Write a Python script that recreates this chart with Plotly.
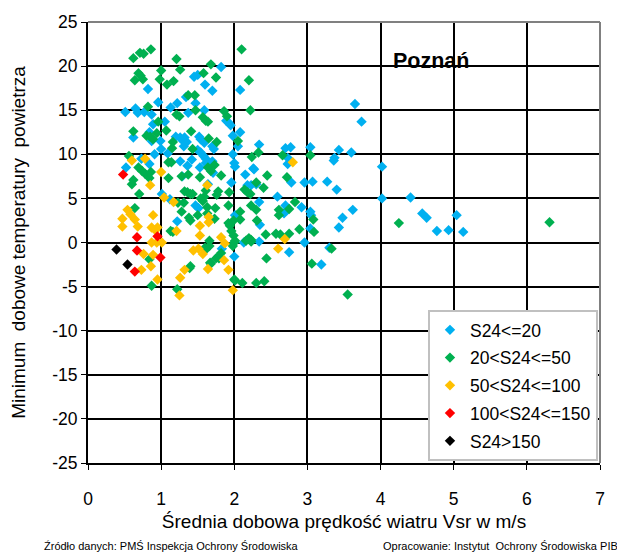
import plotly.graph_objects as go

# ---- data ----
blue_x = [1.82,1.45,1.50,1.60,1.70,2.08,0.82,0.96,1.22,1.13,1.34,1.47,0.51,0.65,0.68,0.77,0.87,1.37,1.59,1.89,1.92,1.95,0.89,1.05,2.08,0.62,0.84,0.87,0.99,1.20,1.26,1.29,1.32,1.35,1.52,1.54,1.59,1.70,1.72,1.98,2.05,1.00,1.31,1.50,1.54,1.58,1.61,1.09,1.98,0.52,0.73,0.84,0.91,1.26,1.36,1.42,1.53,1.61,1.70,2.00,2.01,2.15,2.27,2.34,
          1.64,1.96,2.18,2.30,1.01,1.47,1.22,2.01,1.83,2.00,2.13,1.29,1.71,1.12,1.51,
          3.65,3.74,2.70,2.77,3.04,3.43,3.60,2.73,2.73,3.37,3.36,4.02,2.26,
          2.78,2.96,3.07,3.27,3.40,2.23,2.59,4.02,2.70,2.68,2.34,2.92,3.04,3.05,3.04,3.62,3.48,3.43,2.96,2.35,2.34,2.75,3.30,3.19,
          4.41,4.57,4.63,4.77,4.93,5.04,5.13]
blue_y = [19.9,18.8,19.0,17.9,17.2,17.3,17.4,15.9,15.8,15.3,16.5,15.8,14.8,15.2,14.7,14.8,14.5,14.7,15.0,13.8,13.6,13.3,13.4,13.7,12.5,11.9,12.5,11.5,11.5,12.0,11.9,11.6,11.9,11.4,12.0,11.7,11.3,10.9,10.6,12.1,10.9,10.6,10.9,10.5,10.2,9.8,9.5,10.1,10.0,8.5,9.5,8.9,10.0,9.2,8.7,9.4,8.5,9.0,9.2,9.0,8.6,7.7,8.3,11.1,
          6.6,6.8,6.5,6.6,5.5,4.2,2.4,3.1,-0.7,-1.6,0.0,7.5,7.9,4.9,3.9,
          15.7,13.7,10.7,10.8,10.8,10.5,10.2,9.6,8.9,9.6,9.3,8.6,8.4,
          6.8,6.8,6.9,6.9,6.0,6.5,5.2,5.0,4.2,3.3,4.6,4.0,3.5,3.1,1.6,3.7,2.8,1.7,0.0,2.0,0.1,-1.1,-0.6,-2.5,
          5.1,3.3,2.8,1.3,1.4,3.1,1.2]

green_x = [0.62,0.71,0.76,0.86,1.21,2.10,1.00,1.26,1.68,1.75,1.58,0.69,0.72,0.75,0.64,0.98,1.08,1.17,1.37,1.46,0.82,1.21,1.25,1.47,1.57,1.61,1.64,1.86,1.90,2.22,0.96,1.07,0.62,0.80,0.85,0.89,0.94,1.41,1.16,1.15,1.65,1.76,1.43,2.05,2.24,0.56,0.69,0.74,0.78,0.86,1.10,1.14,1.28,1.37,1.53,1.64,1.73,1.68,1.82,0.62,
           2.20,2.33,2.66,3.04,2.45,2.72,
           0.84,0.60,0.70,0.64,1.10,1.32,1.36,1.40,1.43,1.23,1.31,1.54,1.57,1.63,1.74,1.92,1.99,2.08,2.08,1.50,1.38,1.40,1.13,1.16,1.73,1.92,1.94,1.96,1.99,2.01,1.78,1.59,1.61,1.76,1.93,1.28,1.63,1.98,2.20,2.23,2.31,1.66,1.60,1.82,1.78,1.67,1.40,0.84,0.87,1.22,2.00,2.11,
           2.14,2.18,2.22,2.30,2.40,2.83,2.75,2.23,2.30,2.61,2.61,3.08,3.09,4.25,2.89,2.75,2.57,2.63,2.43,2.23,2.16,3.33,2.44,3.06,2.30,2.41,3.55,1.75,
           1.66,2.00,1.61,1.39,1.68,1.79,2.01,6.31]
green_y = [20.9,21.5,21.4,21.9,20.8,21.9,19.5,19.6,20.2,18.7,19.2,19.2,18.9,18.5,18.4,18.5,17.9,18.3,16.7,16.7,15.4,14.5,14.3,15.0,14.2,13.8,13.7,14.9,14.3,15.0,13.7,12.7,12.6,12.1,12.0,11.7,12.4,12.6,11.4,10.7,11.8,11.4,10.6,11.5,9.7,9.8,8.5,8.1,7.8,8.0,9.1,9.1,7.5,7.7,7.4,8.5,8.8,8.1,7.6,7.1,
           18.4,10.2,9.9,9.9,7.6,7.4,
           7.3,6.6,5.5,3.9,7.3,5.8,5.7,5.5,5.5,4.5,4.5,5.0,4.7,4.0,3.9,4.2,2.5,3.5,2.6,3.1,2.8,2.5,1.3,1.2,2.7,2.2,1.9,1.3,0.8,0.2,5.8,5.2,5.9,5.4,5.7,3.5,3.3,-0.4,0.5,0.1,2.5,-0.4,-0.6,-1.2,-1.6,-2.3,-2.7,-1.9,-4.9,-5.3,-4.2,-4.6,
           6.0,5.7,5.5,6.8,6.2,4.6,3.8,4.2,3.7,3.7,3.1,2.6,1.2,2.2,1.5,1.0,1.0,0.9,0.9,0.3,0.2,-0.7,-1.8,-2.4,-4.6,-4.4,-5.9,-1.8,
           0.2,0.0,-0.8,-2.9,-2.4,-1.8,-4.3,2.3]

yellow_x = [0.60,0.78,1.00,0.85,1.63,1.04,1.17,0.54,0.58,0.64,0.47,0.47,0.89,0.68,0.87,0.92,0.95,0.87,0.94,1.01,0.76,0.89,0.86,0.73,0.95,1.21,1.53,1.65,1.65,1.53,1.44,1.51,1.57,1.32,1.26,1.25,1.64,1.82,1.87,1.86,1.92,1.98,2.80,2.69,2.60]
yellow_y = [9.3,9.5,8.0,6.5,6.5,5.1,4.6,3.7,3.2,2.6,2.7,1.8,3.1,1.8,1.7,1.4,1.7,0.0,0.0,0.0,-1.3,-1.4,-2.7,-3.1,-4.2,1.3,1.9,2.9,2.3,0.8,-0.9,-0.7,-1.3,-3.1,-4.0,-6.0,-3.0,0.6,-0.1,-2.0,-3.1,-5.4,9.1,0.4,-0.7]

red_x = [0.48,0.67,0.95,0.67,0.99,0.64]
red_y = [7.7,0.6,0.7,-0.9,-1.7,-3.3]

black_x = [0.39,0.54]
black_y = [-0.8,-2.5]

series_names = ["S24<=20", "20<S24<=50", "50<S24<=100", "100<S24<=150", "S24>150"]
series_colors = ["#00B0F0", "#00B050", "#FFC000", "#FF0000", "#000000"]
series_x = [blue_x, green_x, yellow_x, red_x, black_x]
series_y = [blue_y, green_y, yellow_y, red_y, black_y]

x_ticks = [0, 1, 2, 3, 4, 5, 6, 7]
y_ticks = [25, 20, 15, 10, 5, 0, -5, -10, -15, -20, -25]

FONT = "Liberation Sans, Arial, sans-serif"
TICK = 17.5

fig = go.Figure()
for i, (nm, col, xs, ys) in enumerate(zip(series_names, series_colors, series_x, series_y)):
    fig.add_trace(go.Scatter(
        x=xs, y=ys, mode="markers", name=nm, legendgroup=f"g{i}",
        marker=dict(symbol="diamond", size=8, color=col, line=dict(width=0)),
    ))

fig.update_layout(
    width=617, height=554,
    margin=dict(l=88, r=17, t=20, b=91),
    paper_bgcolor="white", plot_bgcolor="white",
    font=dict(family=FONT, size=TICK, color="#000000"),
    showlegend=True,
    legend=dict(
        x=0.664, y=0.347, xanchor="left", yanchor="top",
        bgcolor="white", bordercolor="#C0C0C0", borderwidth=2,
        font=dict(family=FONT, size=TICK, color="#000000"),
        traceorder="grouped", tracegroupgap=2,
        itemwidth=30, entrywidth=113, entrywidthmode="pixels",
    ),
    xaxis=dict(
        range=[0, 7], tickvals=x_ticks, ticktext=[str(v) for v in x_ticks],
        showgrid=True, gridcolor="#000000", gridwidth=2,
        showline=True, linecolor="#000000", linewidth=2,
        ticks="outside", ticklen=5, tickcolor="#000000", tickwidth=1,
        ticklabelstandoff=14,
        zeroline=False,
        title=dict(text="Średnia dobowa prędkość wiatru Vsr w m/s", font=dict(size=19), standoff=7),
        tickfont=dict(size=TICK),
    ),
    yaxis=dict(
        range=[-25, 25], tickvals=y_ticks, ticktext=[str(v) for v in y_ticks],
        showgrid=True, gridcolor="#000000", gridwidth=2,
        showline=True, linecolor="#000000", linewidth=2,
        ticks="outside", ticklen=5, tickcolor="#000000", tickwidth=1,
        zeroline=False,
        title=dict(text="Minimum  dobowe temperatury  powietrza", font=dict(size=19), standoff=22),
        tickfont=dict(size=TICK),
    ),
    shapes=[
        dict(type="line", xref="paper", yref="paper", x0=0, x1=1, y0=1, y1=1,
             line=dict(color="#808080", width=2), layer="above"),
        dict(type="line", xref="paper", yref="paper", x0=1, x1=1, y0=0, y1=1,
             line=dict(color="#808080", width=2), layer="above"),
    ],
    annotations=[
        dict(text="<b>Poznań</b>", xref="x", yref="y", x=4.14, y=20.6, xanchor="left", yanchor="middle",
             showarrow=False, font=dict(family=FONT, size=21.5, color="#000000")),
        dict(text="Źródło danych: PMŚ Inspekcja Ochrony Środowiska", xref="paper", yref="paper",
             x=-0.09, y=-0.188, xanchor="left", yanchor="middle", showarrow=False,
             font=dict(family=FONT, size=11, color="#000000")),
        dict(text="Opracowanie: Instytut  Ochrony Środowiska PIB", xref="paper", yref="paper",
             x=1.04, y=-0.188, xanchor="right", yanchor="middle", showarrow=False,
             font=dict(family=FONT, size=11, color="#000000")),
    ],
)

fig.write_html("out.html")
